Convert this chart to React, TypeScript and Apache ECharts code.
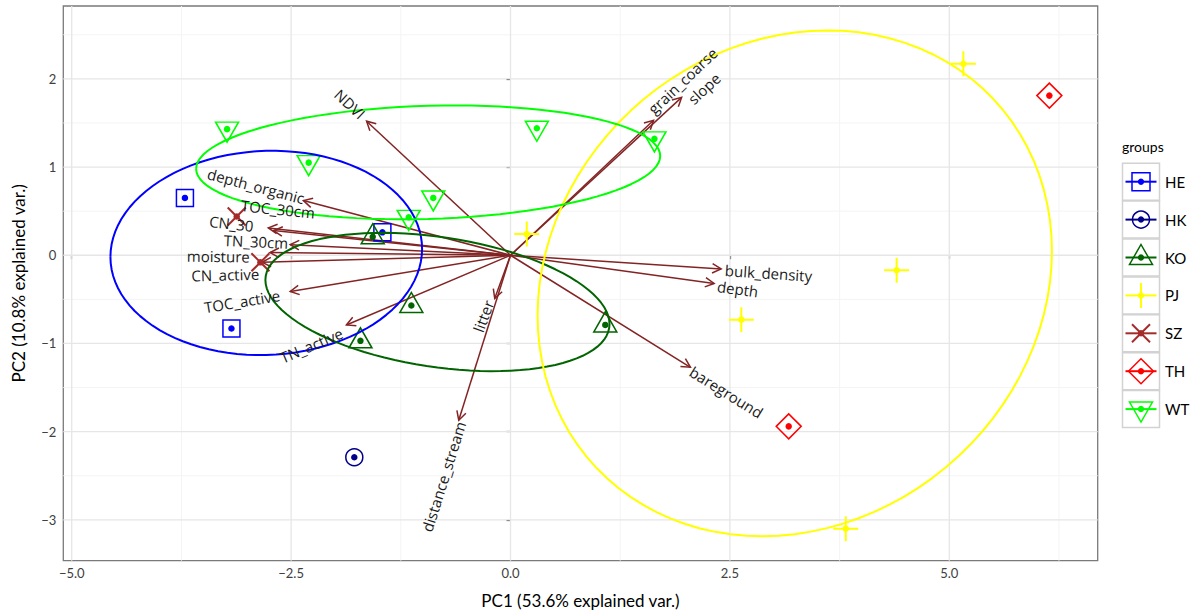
import React, { useEffect, useRef } from "react";
import * as echarts from "echarts";

// ---------- DATA ----------
const groups = ["HE", "HK", "KO", "PJ", "SZ", "TH", "WT"];
const groupColors = ["#0000FF", "#00008B", "#006400", "#FFFF00", "#A52A2A", "#FF0000", "#00FF00"];

// PC scores per group
const heX = [-3.71, -3.18, -1.46];
const heY = [0.65, -0.83, 0.26];
const hkX = [-1.78];
const hkY = [-2.29];
const koX = [-1.57, -1.13, -1.71, 1.08];
const koY = [0.21, -0.57, -0.97, -0.79];
const pjX = [0.185, 5.16, 4.4, 3.82, 2.63];
const pjY = [0.24, 2.17, -0.17, -3.1, -0.73];
const szX = [-3.12, -2.85];
const szY = [0.44, -0.08];
const thX = [6.14, 3.17];
const thY = [1.81, -1.94];
const wtX = [-3.23, -2.3, -0.88, -1.16, 0.3, 1.64];
const wtY = [1.43, 1.05, 0.65, 0.43, 1.44, 1.32];
const groupX = [heX, hkX, koX, pjX, szX, thX, wtX];
const groupY = [heY, hkY, koY, pjY, szY, thY, wtY];

// variable loadings (arrow tips)
const varNames = ["NDVI", "grain_coarse", "slope", "bulk_density", "depth", "bareground", "distance_stream", "litter",
  "TN_active", "TOC_active", "CN_active", "moisture", "TN_30cm", "CN_30", "TOC_30cm", "depth_organic"];
const varX = [-1.64, 1.63, 1.95, 2.4, 2.32, 2.05, -0.59, -0.18, -1.87, -2.51, -2.83, -2.74, -2.51, -2.76, -2.7, -2.36];
const varY = [1.52, 1.53, 1.79, -0.155, -0.32, -1.27, -1.87, -0.49, -0.79, -0.41, -0.08, 0.03, 0.12, 0.31, 0.28, 0.62];

// tick labels
const xTicks = [-5, -2.5, 0, 2.5, 5];
const yTicks = [-3, -2, -1, 0, 1, 2];
const xMinor = [-3.75, -1.25, 1.25, 3.75, 6.25];
const yMinor = [-2.5, -1.5, -0.5, 0.5, 1.5, 2.5];

// ---------- LAYOUT (text placement of variable names, data units) ----------
const labelAtX = [-1.83, 1.96, 2.205, 2.94, 2.59, 2.46, -0.763, -0.31, -2.27, -3.06, -3.25, -3.33, -2.9, -3.18, -2.65, -2.9];
const labelAtY = [1.715, 1.98, 1.893, -0.2, -0.38, -1.55, -2.51, -0.69, -1.02, -0.52, -0.22, -0.01, 0.156, 0.36, 0.525, 0.786];

const X_MIN = -5.096, X_MAX = 6.691, Y_MIN = -3.463, Y_MAX = 2.826;
const ARROW = "#832424";
const FONT = "Lato";
const LABEL_FONT = "Open Sans";

function ellipse(xs: number[], ys: number[], n = 100) {
  const m = xs.length;
  const mx = xs.reduce((a, b) => a + b, 0) / m;
  const my = ys.reduce((a, b) => a + b, 0) / m;
  let sxx = 0, syy = 0, sxy = 0;
  for (let i = 0; i < m; i++) {
    sxx += (xs[i] - mx) ** 2;
    syy += (ys[i] - my) ** 2;
    sxy += (xs[i] - mx) * (ys[i] - my);
  }
  sxx /= m - 1; syy /= m - 1; sxy /= m - 1;
  const r11 = Math.sqrt(sxx), r12 = sxy / r11, r22 = Math.sqrt(Math.max(syy - r12 * r12, 0));
  const ed = Math.sqrt(-2 * Math.log(1 - 0.68));
  const pts: number[][] = [];
  for (let k = 0; k <= n; k++) {
    const th = -Math.PI + (2 * Math.PI * k) / n;
    const c = Math.cos(th), s = Math.sin(th);
    pts.push([mx + ed * c * r11, my + ed * (c * r12 + s * r22)]);
  }
  return pts;
}

const outlineSymbol: any[] = [
  { symbol: "rect", size: 17, offset: [0, 0] },
  { symbol: "circle", size: 17, offset: [0, 0] },
  { symbol: "path://M10,0L20,17L0,17Z", size: [23, 20], offset: [0, -3] },
  { symbol: "path://M0,10L20,10M10,0L10,20", size: 25, offset: [0, 0] },
  { symbol: "path://M0,0L20,20M20,0L0,20", size: 18, offset: [0, 0] },
  { symbol: "path://M10,0L20,10L10,20L0,10Z", size: 25, offset: [0, 0] },
  { symbol: "path://M0,0L20,0L10,17Z", size: [23, 20], offset: [0, 3] },
];

function legendGraphics() {
  const els: any[] = [];
  els.push({ type: "text", left: 1122, top: 139, style: { text: "groups", font: `14px ${FONT}`, fill: "#000" } });
  const x0 = 1122.5, w = 37;
  groups.forEach((g, i) => {
    const cy = 181.7 + i * 37.9;
    const cx = x0 + w / 2;
    const col = groupColors[i];
    const ch: any[] = [];
    ch.push({ type: "rect", shape: { x: x0, y: cy - 18.5, width: w, height: 37 }, style: { fill: "#fff", stroke: "#d2d2d2", lineWidth: 1.5 } });
    ch.push({ type: "line", shape: { x1: x0 + 3, y1: cy, x2: x0 + w - 3, y2: cy }, style: { stroke: col, lineWidth: 2 } });
    const st = { fill: "none", stroke: col, lineWidth: 1.5 };
    if (i === 0) ch.push({ type: "rect", shape: { x: cx - 9, y: cy - 9, width: 18, height: 18 }, style: st });
    if (i === 1) ch.push({ type: "circle", shape: { cx, cy, r: 8.5 }, style: st });
    if (i === 2) ch.push({ type: "polygon", shape: { points: [[cx, cy - 13], [cx + 11.5, cy + 7], [cx - 11.5, cy + 7]] }, style: st });
    if (i === 3) ch.push({ type: "line", shape: { x1: cx, y1: cy - 12.5, x2: cx, y2: cy + 12.5 }, style: { stroke: col, lineWidth: 2 } });
    if (i === 4) {
      ch.push({ type: "line", shape: { x1: cx - 9, y1: cy - 9, x2: cx + 9, y2: cy + 9 }, style: { stroke: col, lineWidth: 2 } });
      ch.push({ type: "line", shape: { x1: cx + 9, y1: cy - 9, x2: cx - 9, y2: cy + 9 }, style: { stroke: col, lineWidth: 2 } });
    }
    if (i === 5) ch.push({ type: "polygon", shape: { points: [[cx, cy - 12.5], [cx + 12.5, cy], [cx, cy + 12.5], [cx - 12.5, cy]] }, style: st });
    if (i === 6) ch.push({ type: "polygon", shape: { points: [[cx - 11.5, cy - 7], [cx + 11.5, cy - 7], [cx, cy + 13]] }, style: st });
    ch.push({ type: "circle", shape: { cx, cy, r: 3.2 }, style: { fill: col } });
    ch.push({ type: "text", x: 1165, y: cy, style: { text: g, font: `15px ${FONT}`, fill: "#000", verticalAlign: "middle" } });
    els.push({ type: "group", children: ch });
  });
  return els;
}

export default function App() {
  const ref = useRef<HTMLDivElement>(null);
  useEffect(() => {
    if (!ref.current) return;
    const chart = echarts.init(ref.current, undefined, { renderer: "svg" });

    const gridData: any[] = [];
    xMinor.forEach((v) => gridData.push([v, 0, 1]));
    yMinor.forEach((v) => gridData.push([v, 0, 0]));
    xTicks.forEach((v) => gridData.push([v, 1, 1]));
    yTicks.forEach((v) => gridData.push([v, 1, 0]));

    const series: any[] = [];
    series.push({
      type: "custom",
      silent: true,
      z: 1,
      data: gridData,
      renderItem: (_p: any, api: any) => {
        const v = api.value(0), major = api.value(1), isX = api.value(2);
        const a = isX ? api.coord([v, Y_MIN]) : api.coord([X_MIN, v]);
        const b = isX ? api.coord([v, Y_MAX]) : api.coord([X_MAX, v]);
        return {
          type: "line",
          shape: { x1: a[0], y1: a[1], x2: b[0], y2: b[1] },
          style: { stroke: major ? "#e6e6e6" : "#f4f4f4", lineWidth: major ? 1.3 : 1 },
        };
      },
    });
    // arrows
    series.push({
      type: "custom",
      silent: true,
      z: 2,
      data: varX.map((x, i) => [x, varY[i]]),
      renderItem: (_p: any, api: any) => {
        const o = api.coord([0, 0]);
        const t = api.coord([api.value(0), api.value(1)]);
        const ang = Math.atan2(t[1] - o[1], t[0] - o[0]);
        const L = 10, a = (28 * Math.PI) / 180;
        const p1 = [t[0] - L * Math.cos(ang - a), t[1] - L * Math.sin(ang - a)];
        const p2 = [t[0] - L * Math.cos(ang + a), t[1] - L * Math.sin(ang + a)];
        return {
          type: "group",
          children: [
            { type: "line", shape: { x1: o[0], y1: o[1], x2: t[0], y2: t[1] }, style: { stroke: ARROW, lineWidth: 1.5 } },
            { type: "polyline", shape: { points: [p1, t, p2] }, style: { stroke: ARROW, lineWidth: 1.5, fill: "none" } },
          ],
        };
      },
    });
    // points
    groups.forEach((g, i) => {
      const data = groupX[i].map((x, k) => [x, groupY[i][k]]);
      const os = outlineSymbol[i];
      series.push({
        type: "scatter",
        name: g,
        z: 3,
        silent: true,
        data,
        symbol: os.symbol,
        symbolSize: os.size,
        symbolOffset: os.offset,
        itemStyle: { color: "rgba(0,0,0,0)", borderColor: groupColors[i], borderWidth: i === 3 || i === 4 ? 2 : 1.5, opacity: 1 },
      });
      series.push({
        type: "scatter",
        z: 3,
        silent: true,
        data,
        symbol: "circle",
        symbolSize: 6.5,
        itemStyle: { color: groupColors[i], opacity: 1 },
      });
    });
    // ellipses
    groups.forEach((g, i) => {
      if (groupX[i].length <= 2) return;
      series.push({
        type: "line",
        z: 4,
        silent: true,
        data: ellipse(groupX[i], groupY[i]),
        showSymbol: false,
        symbol: "none",
        lineStyle: { color: groupColors[i], width: 2 },
      });
    });
    // variable labels
    series.push({
      type: "custom",
      silent: true,
      z: 5,
      data: labelAtX.map((x, i) => [x, labelAtY[i], varX[i], varY[i], i]),
      renderItem: (_p: any, api: any) => {
        const c = api.coord([api.value(0), api.value(1)]);
        const o = api.coord([0, 0]);
        const t = api.coord([api.value(2), api.value(3)]);
        let deg = (Math.atan2(-(t[1] - o[1]), t[0] - o[0]) * 180) / Math.PI;
        if (deg > 90) deg -= 180;
        if (deg < -90) deg += 180;
        return {
          type: "text",
          x: c[0],
          y: c[1],
          rotation: (deg * Math.PI) / 180,
          style: { text: varNames[api.value(4)], font: `15px "${LABEL_FONT}"`, fill: "#1a1a1a", align: "center", verticalAlign: "middle" },
        };
      },
    });

    const fmtX = (v: number) => v.toFixed(1).replace("-", "\u2212");
    const fmtY = (v: number) => String(v).replace("-", "\u2212");

    chart.setOption({
      animation: false,
      textStyle: { fontFamily: FONT },
      grid: { left: 63.3, top: 6, width: 1034.4, height: 554.7, show: true, borderColor: "#7a7a7a", borderWidth: 1.3, backgroundColor: "#fff" },
      xAxis: {
        type: "value",
        min: X_MIN,
        max: X_MAX,
        splitLine: { show: false },
        axisLine: { show: false },
        axisTick: { show: true, customValues: xTicks, length: 4, lineStyle: { color: "#333", width: 1.2 } },
        axisLabel: { customValues: xTicks, formatter: fmtX, fontSize: 13, color: "#404040", margin: 6, fontFamily: FONT },
        name: "PC1 (53.6% explained var.)",
        nameLocation: "middle",
        nameGap: 31,
        nameTextStyle: { fontSize: 17, color: "#000", fontFamily: FONT },
      },
      yAxis: {
        type: "value",
        min: Y_MIN,
        max: Y_MAX,
        splitLine: { show: false },
        axisLine: { show: false },
        axisTick: { show: true, customValues: yTicks, length: 4, lineStyle: { color: "#333", width: 1.2 } },
        axisLabel: { customValues: yTicks, formatter: fmtY, fontSize: 13, color: "#404040", margin: 7, fontFamily: FONT },
        name: "PC2 (10.8% explained var.)",
        nameLocation: "middle",
        nameGap: 36,
        nameRotate: 90,
        nameTextStyle: { fontSize: 17, color: "#000", fontFamily: FONT },
      },
      graphic: legendGraphics(),
      series,
    });
    return () => chart.dispose();
  }, []);
  return <div ref={ref} style={{ position: "fixed", left: 0, top: 0, width: 1198, height: 615, background: "#fff" }} />;
}
